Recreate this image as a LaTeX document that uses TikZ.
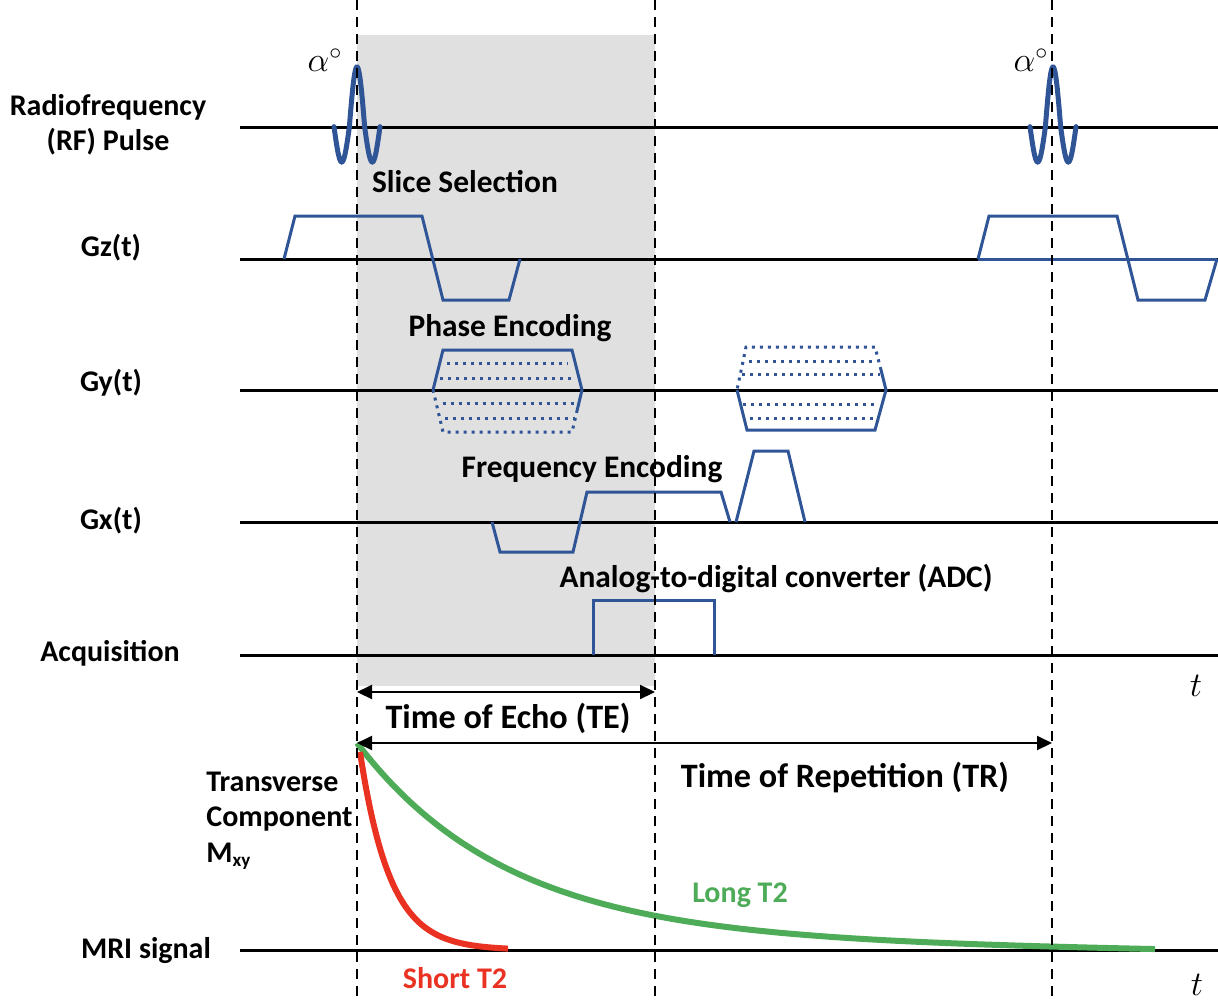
\documentclass[tikz,border=0pt]{standalone}
\usepackage{fontspec}
\setmainfont{Carlito}
\usetikzlibrary{arrows.meta}
\definecolor{wblue}{RGB}{47,85,151}
\definecolor{wgreen}{RGB}{78,172,88}
\definecolor{wred}{RGB}{234,50,35}
\definecolor{wgray}{RGB}{224,224,224}
\tikzset{
  lbl/.style={font=\bfseries\fontsize{15}{17.7}\selectfont, inner sep=0pt},
  midlbl/.style={font=\bfseries\fontsize{15.7}{18}\selectfont, inner sep=0pt},
  biglbl/.style={font=\bfseries\fontsize{17.1}{20}\selectfont, inner sep=0pt},
  baseline/.style={line width=1.5pt, black},
  vdash/.style={line width=1pt, black, dash pattern=on 5pt off 3.5pt},
  grad/.style={line width=1.5pt, wblue, line join=miter},
  gdot/.style={line width=1.5pt, wblue, dash pattern=on 1.5pt off 2.5pt},
  rfpulse/.style={line width=2.5pt, wblue, line cap=round},
  dim/.style={line width=1pt, black, {Triangle[length=7.5pt,width=7pt]}-{Triangle[length=7.5pt,width=7pt]}},
  decay/.style={line width=3pt}
}
\begin{document}
\begin{tikzpicture}[x=0.5pt,y=-0.5pt]
\useasboundingbox (0,0) rectangle (1218,1001);
\fill[wgray] (357,35) rectangle (655,686);

% baselines
\foreach \n/\yy in {rf/127,gz/259,gy/390,gx/522,acq/655,mri/950}{
  \coordinate (\n L) at (240,\yy);
  \coordinate (\n R) at (1218,\yy);
  \draw[baseline] (\n L) -- (\n R);
}

% RF pulses
\foreach \c in {357,1053}{
  \draw[rfpulse] plot[domain=-23:-7.65,samples=25] ({\c+\x},{127-35*cos(\x*180/15.3)})
    -- plot[domain=-7.65:7.65,samples=30] ({\c+\x},{127-60*cos(\x*180/15.3)})
    -- plot[domain=7.65:23,samples=25] ({\c+\x},{127-35*cos(\x*180/15.3)});
}

% Gz
\draw[grad] (284,259) -- (295,216) -- (422,216) -- (443,300) -- (509,300) -- (520,259);
\draw[grad] (978,259) -- (1217,259);
\draw[grad] (978,259) -- (989,216) -- (1117,216) -- (1138,300) -- (1205,300) -- (1217,259);

% Gy first
\draw[grad] (433,390) -- (443,350) -- (572,350) -- (582,390) -- (577.2,410);
\draw[gdot] (577.2,410) -- (572,432) -- (443,432) -- (433,390);
\draw[gdot] (447,363) -- (568,363);
\draw[gdot] (440,378) -- (573,378);
\draw[gdot] (443,403) -- (577,403);
\draw[gdot] (445,418) -- (575,418);

% Gy second
\draw[grad] (881,370) -- (886,390) -- (875,430) -- (747,430) -- (737,390);
\draw[gdot] (881,370) -- (875,347) -- (746,347) -- (737,390);
\draw[gdot] (749,361) -- (874,361);
\draw[gdot] (742,374) -- (880,374);
\draw[gdot] (743,404) -- (877,404);
\draw[gdot] (750,418) -- (874,418);

% Gx
\draw[grad] (492,522) -- (500,552) -- (573,552) -- (587,492) -- (721,492) -- (730,522);
\draw[grad] (736,522) -- (754,451) -- (788,451) -- (805,522);

% ADC
\draw[grad] (593,655) -- (593,600) -- (714,600) -- (714,655);

% decay curves
\draw[decay, wgreen] plot[domain=357:1155,samples=160] (\x,{950-195*exp(-(\x-357)/150)-12*(1-(\x-357)/798)});
\draw[decay, wred] plot[domain=360:508,samples=80] (\x,{950-198*exp(-(\x-360)/30)});

% dashed verticals
\foreach \n/\xx in {a/357,b/655,c/1052}{
  \coordinate (\n T) at (\xx,0);
  \coordinate (\n B) at (\xx,1001);
  \draw[vdash] (\n T) -- (\n B);
}

% dimension arrows
\coordinate (te1) at (357,692);
\coordinate (te2) at (655,692);
\coordinate (tr1) at (357,743);
\coordinate (tr2) at (1052,743);
\draw[dim] (te1) -- (te2);
\draw[dim] (tr1) -- (tr2);

% labels
\node[lbl, align=center] (lrf) at (108,125) {Radiofrequency\\(RF) Pulse};
\node[lbl] (lgz) at (111,248) {Gz(t)};
\node[lbl] (lgy) at (111,383) {Gy(t)};
\node[lbl] (lgx) at (111,521) {Gx(t)};
\node[lbl] (lacq) at (110,653) {Acquisition};
\node[lbl] (lmri) at (146,950) {MRI signal};
\node[lbl, align=left, anchor=west] (lmxy) at (206,821) {Transverse\\Component\\M{\fontsize{9.5}{9.5}\selectfont\raisebox{-0.5ex}{xy}}};

\node[midlbl] (lss) at (465,182) {Slice Selection};
\node[midlbl] (lpe) at (510,328) {Phase Encoding};
\node[midlbl] (lfe) at (592,469) {Frequency Encoding};
\node[midlbl] (ladc) at (776,578) {Analog-to-digital converter (ADC)};
\node[biglbl] (lte) at (508,718) {Time of Echo (TE)};
\node[biglbl] (ltr) at (845,777) {Time of Repetition (TR)};
\node[lbl, text=wgreen] (llong) at (740,895) {Long T2};
\node[lbl, text=wred] (lshort) at (455,978) {Short T2};

\node[font=\fontsize{16.5}{19}\selectfont, inner sep=0pt] (al1) at (325,60) {$\alpha^{\circ}$};
\node[font=\fontsize{16.5}{19}\selectfont, inner sep=0pt] (al2) at (1031,60) {$\alpha^{\circ}$};
\node[font=\fontsize{17}{20}\selectfont, inner sep=0pt] (t1) at (1196,686) {$t$};
\node[font=\fontsize{17}{20}\selectfont, inner sep=0pt] (t2) at (1197,985) {$t$};
\end{tikzpicture}
\end{document}
